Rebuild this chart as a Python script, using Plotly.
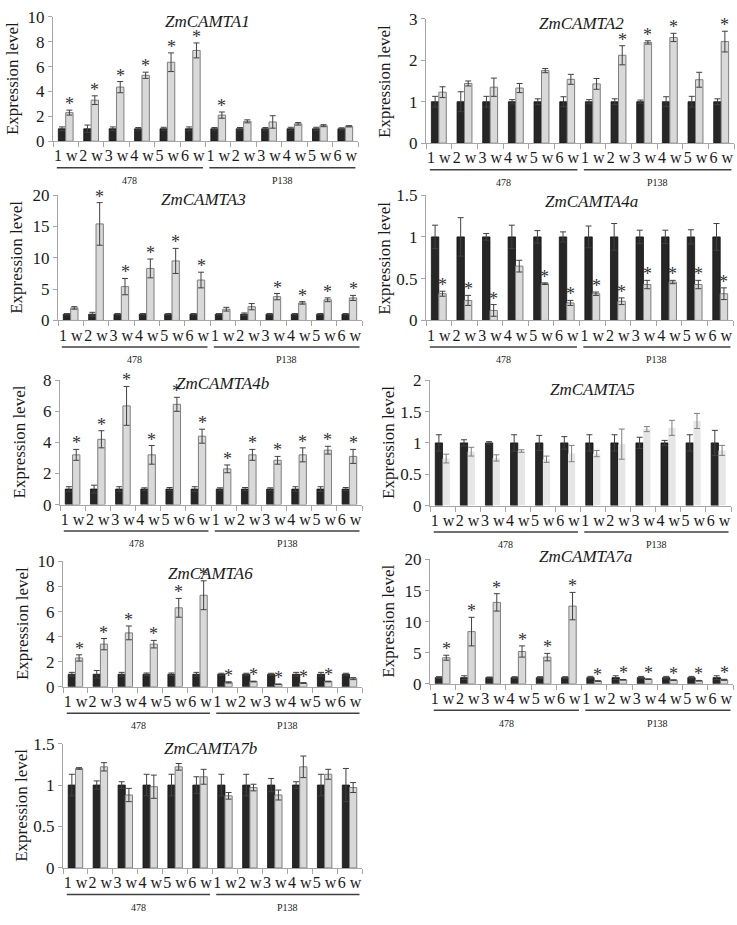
import plotly.graph_objects as go

# category labels: six weeks for each of the two lines
weeks = ['1 w', '2 w', '3 w', '4 w', '5 w', '6 w',
         '1 w', '2 w', '3 w', '4 w', '5 w', '6 w']
lines = ['478', 'P138']
control = [1, 1, 1, 1, 1, 1, 1, 1, 1, 1, 1, 1]

# ZmCAMTA1
a1_ctrl_err = [0.15, 0.3, 0.15, 0.1, 0.12, 0.15, 0.1, 0.1, 0.1, 0.12, 0.12, 0.08]
a1_trt = [2.3, 3.3, 4.35, 5.3, 6.35, 7.3, 2.1, 1.6, 1.55, 1.4, 1.25, 1.2]
a1_trt_err = [0.2, 0.35, 0.45, 0.25, 0.75, 0.6, 0.25, 0.12, 0.5, 0.1, 0.08, 0.05]
a1_sig = [1, 1, 1, 1, 1, 1, 1, 0, 0, 0, 0, 0]

# ZmCAMTA2
a2_ctrl_err = [0.13, 0.24, 0.13, 0.05, 0.07, 0.12, 0.05, 0.07, 0.04, 0.12, 0.13, 0.07]
a2_trt = [1.23, 1.44, 1.35, 1.33, 1.75, 1.54, 1.43, 2.12, 2.43, 2.55, 1.53, 2.45]
a2_trt_err = [0.13, 0.06, 0.22, 0.11, 0.05, 0.12, 0.13, 0.23, 0.04, 0.1, 0.18, 0.25]
a2_sig = [0, 0, 0, 0, 0, 0, 0, 1, 1, 1, 0, 1]

# ZmCAMTA3
a3_ctrl_err = [0.1, 0.3, 0.1, 0.1, 0.1, 0.1, 0.1, 0.2, 0.1, 0.1, 0.1, 0.1]
a3_trt = [2.0, 15.4, 5.4, 8.3, 9.5, 6.45, 1.8, 2.2, 3.8, 2.8, 3.3, 3.6]
a3_trt_err = [0.2, 3.4, 1.3, 1.5, 2.0, 1.25, 0.3, 0.5, 0.5, 0.2, 0.3, 0.4]
a3_sig = [0, 1, 1, 1, 1, 1, 0, 0, 1, 1, 1, 1]

# ZmCAMTA4a
a4a_ctrl_err = [0.14, 0.23, 0.04, 0.14, 0.075, 0.06, 0.13, 0.16, 0.08, 0.08, 0.085, 0.16]
a4a_trt = [0.32, 0.24, 0.12, 0.65, 0.44, 0.21, 0.32, 0.23, 0.43, 0.46, 0.43, 0.32]
a4a_trt_err = [0.03, 0.06, 0.07, 0.07, 0.01, 0.03, 0.02, 0.04, 0.05, 0.02, 0.05, 0.07]
a4a_sig = [1, 1, 1, 0, 1, 1, 1, 1, 1, 1, 1, 1]

# ZmCAMTA4b
a4b_ctrl_err = [0.15, 0.25, 0.15, 0.08, 0.1, 0.15, 0.08, 0.1, 0.08, 0.15, 0.15, 0.1]
a4b_trt = [3.2, 4.2, 6.35, 3.2, 6.45, 4.4, 2.3, 3.2, 2.85, 3.2, 3.5, 3.1]
a4b_trt_err = [0.35, 0.55, 1.25, 0.6, 0.45, 0.45, 0.25, 0.35, 0.25, 0.45, 0.25, 0.45]
a4b_sig = [1, 1, 1, 1, 1, 1, 1, 1, 1, 1, 1, 1]

# ZmCAMTA5
a5_ctrl_err = [0.13, 0.05, 0.02, 0.13, 0.12, 0.1, 0.13, 0.13, 0.09, 0.04, 0.13, 0.2]
a5_trt = [0.75, 0.86, 0.76, 0.87, 0.74, 0.83, 0.83, 0.98, 1.22, 1.24, 1.35, 0.88]
a5_trt_err = [0.07, 0.07, 0.05, 0.02, 0.05, 0.13, 0.05, 0.24, 0.04, 0.12, 0.12, 0.08]
a5_sig = [0, 0, 0, 0, 0, 0, 0, 0, 0, 0, 0, 0]

# ZmCAMTA6
a6_ctrl_err = [0.15, 0.3, 0.15, 0.1, 0.1, 0.15, 0.08, 0.08, 0.08, 0.15, 0.15, 0.08]
a6_trt = [2.3, 3.4, 4.3, 3.4, 6.3, 7.3, 0.35, 0.42, 0.2, 0.3, 0.42, 0.65]
a6_trt_err = [0.25, 0.45, 0.55, 0.3, 0.75, 1.15, 0.05, 0.03, 0.02, 0.03, 0.03, 0.08]
a6_sig = [1, 1, 1, 1, 1, 1, 1, 1, 1, 1, 1, 0]

# ZmCAMTA7a
a7a_ctrl_err = [0.15, 0.3, 0.1, 0.15, 0.15, 0.15, 0.2, 0.3, 0.2, 0.2, 0.2, 0.3]
a7a_trt = [4.2, 8.4, 13.1, 5.2, 4.3, 12.5, 0.45, 0.65, 0.75, 0.6, 0.5, 0.65]
a7a_trt_err = [0.4, 2.3, 1.4, 0.9, 0.6, 2.2, 0.05, 0.05, 0.05, 0.05, 0.05, 0.08]
a7a_sig = [1, 1, 1, 1, 1, 1, 1, 1, 1, 1, 1, 1]

# ZmCAMTA7b
a7b_ctrl_err = [0.13, 0.05, 0.04, 0.13, 0.13, 0.1, 0.13, 0.13, 0.08, 0.04, 0.13, 0.2]
a7b_trt = [1.2, 1.22, 0.88, 0.98, 1.22, 1.1, 0.87, 0.97, 0.88, 1.22, 1.13, 0.97]
a7b_trt_err = [0.01, 0.05, 0.08, 0.14, 0.04, 0.09, 0.04, 0.04, 0.06, 0.13, 0.06, 0.06]
a7b_sig = [0, 0, 0, 0, 0, 0, 0, 0, 0, 0, 0, 0]

W, H = 737, 925
FONT = 'Liberation Serif, Times New Roman, serif'
BARGAP = 0.42

# name, data, y max, y step, pixel box (left, right, top, bottom), title centre (x, y), outlined
panels = [
    ('ZmCAMTA1', a1_ctrl_err, a1_trt, a1_trt_err, a1_sig, 10, 2, (53, 358, 8, 135), (207, 13), True),
    ('ZmCAMTA2', a2_ctrl_err, a2_trt, a2_trt_err, a2_sig, 3, 1, (426, 734, 10, 137), (581, 15), True),
    ('ZmCAMTA3', a3_ctrl_err, a3_trt, a3_trt_err, a3_sig, 20, 5, (58, 362, 190, 318), (203, 195), True),
    ('ZmCAMTA4a', a4a_ctrl_err, a4a_trt, a4a_trt_err, a4a_sig, 1.5, 0.5, (426, 733, 190, 318), (591, 197), True),
    ('ZmCAMTA4b', a4b_ctrl_err, a4b_trt, a4b_trt_err, a4b_sig, 8, 2, (60, 362, 379, 506), (222, 382), True),
    ('ZmCAMTA5', a5_ctrl_err, a5_trt, a5_trt_err, a5_sig, 2, 0.5, (430, 731, 379, 507), (592, 388), False),
    ('ZmCAMTA6', a6_ctrl_err, a6_trt, a6_trt_err, a6_sig, 10, 2, (63, 362, 564, 692), (211, 576), True),
    ('ZmCAMTA7a', a7a_ctrl_err, a7a_trt, a7a_trt_err, a7a_sig, 20, 5, (430, 733, 562, 689), (585, 559), True),
    ('ZmCAMTA7b', a7b_ctrl_err, a7b_trt, a7b_trt_err, a7b_sig, 1.5, 0.5, (63, 362, 750, 877), (211, 755), True),
]

fig = go.Figure()
idx = list(range(len(weeks)))
shift = (1 - BARGAP) / 4
annotations = []
shapes = []

for n, (gene, c_err, trt, t_err, sig, ymax, step, box, tpos, outlined) in enumerate(panels, start=1):
    left, right, top, bottom = box
    xa = 'x' if n == 1 else f'x{n}'
    ya = 'y' if n == 1 else f'y{n}'
    fig.add_trace(go.Bar(
        x=idx, y=control, xaxis=xa, yaxis=ya,
        marker=dict(color='#262626', line=dict(color='#111111', width=0.8)),
        error_y=dict(type='data', array=c_err, color='#404040', thickness=1, width=3),
        showlegend=False))
    light_line = dict(color='#7f7f7f', width=1) if outlined else dict(width=0)
    fig.add_trace(go.Bar(
        x=idx, y=trt, xaxis=xa, yaxis=ya,
        marker=dict(color='#d9d9d9' if outlined else '#e6e6e6', line=light_line),
        error_y=dict(type='data', array=t_err, color='#404040' if outlined else '#7f7f7f',
                     thickness=1, width=3),
        showlegend=False))

    # significance asterisks above the treated bars
    for i in idx:
        if sig[i]:
            annotations.append(dict(
                text='*', xref=xa, yref=ya, x=i + shift, y=trt[i] + t_err[i],
                xanchor='center', yanchor='bottom', yshift=-6, showarrow=False,
                font=dict(family=FONT, size=18, color='#333333')))

    fig.update_layout({
        ('xaxis' if n == 1 else f'xaxis{n}'): dict(
            domain=[left / W, right / W], anchor=ya, range=[-0.5, len(weeks) - 0.5],
            tickmode='array', tickvals=idx, ticktext=weeks, ticks='', tickangle=0,
            tickfont=dict(family=FONT, size=16, color='#1a1a1a'),
            showline=True, linecolor='#a6a6a6', linewidth=1, showgrid=False, zeroline=False,
            minor=dict(tickmode='array', tickvals=[i - 0.5 for i in idx] + [len(weeks) - 0.5],
                       ticks='outside', ticklen=5, tickcolor='#a6a6a6', showgrid=False)),
        ('yaxis' if n == 1 else f'yaxis{n}'): dict(
            domain=[1 - bottom / H, 1 - top / H], anchor=xa, range=[0, ymax], dtick=step,
            tickfont=dict(family=FONT, size=17, color='#1a1a1a'),
            ticks='outside', ticklen=4, tickcolor='#a6a6a6',
            showline=True, linecolor='#a6a6a6', linewidth=1, showgrid=False, zeroline=False),
    })

    annotations.append(dict(
        text=gene, xref='paper', yref='paper', x=tpos[0] / W, y=1 - tpos[1] / H,
        xanchor='center', yanchor='middle', showarrow=False,
        font=dict(family=FONT, size=17, color='#1a1a1a', style='italic')))
    annotations.append(dict(
        text='Expression level', xref='paper', yref='paper', x=(left - 41) / W,
        y=1 - (top + bottom) / 2 / H, textangle=-90, xanchor='center', yanchor='middle',
        showarrow=False, font=dict(family=FONT, size=17, color='#1a1a1a')))
    for g, line_name in enumerate(lines):
        x0 = g * 6 - 0.35
        x1 = g * 6 + 5 + 0.4
        shapes.append(dict(type='line', xref=xa, yref='paper', x0=x0, x1=x1,
                           y0=1 - (bottom + 27) / H, y1=1 - (bottom + 27) / H,
                           line=dict(color='#404040', width=1.5)))
        annotations.append(dict(
            text=line_name, xref=xa, yref='paper', x=(x0 + x1) / 2, y=1 - (bottom + 40) / H,
            xanchor='center', yanchor='middle', showarrow=False,
            font=dict(family=FONT, size=10, color='#1a1a1a')))

fig.update_layout(
    width=W, height=H, margin=dict(l=0, r=0, t=0, b=0),
    paper_bgcolor='white', plot_bgcolor='white',
    barmode='group', bargap=BARGAP, bargroupgap=0,
    annotations=annotations, shapes=shapes,
)

fig.write_html(
    'out.html',
    config={'displayModeBar': False},
    post_script="document.body.style.margin='0';",
)
